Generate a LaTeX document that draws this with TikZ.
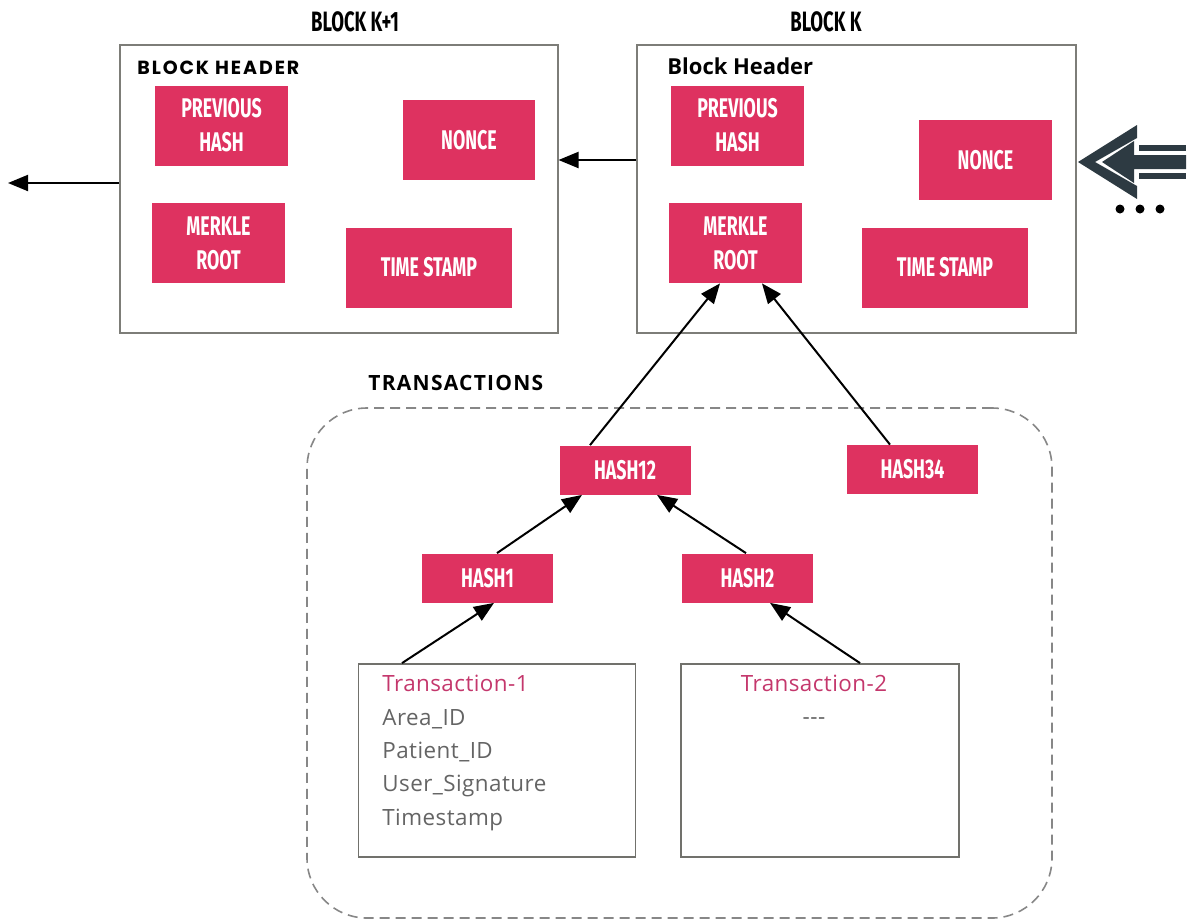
\documentclass[tikz,border=0pt]{standalone}
\usepackage{fontspec}
\setmainfont{Open Sans}
\newfontfamily\cond[FakeStretch=0.66]{Fira Sans}
\newfontfamily\geo[LetterSpace=10]{Poppins}
\newfontfamily\spaced[LetterSpace=6]{Open Sans}
\newfontfamily\txfont[LetterSpace=2]{Open Sans}
\usetikzlibrary{arrows.meta,calc}
\definecolor{pinkc}{RGB}{222,50,96}
\definecolor{txpink}{RGB}{196,55,108}
\definecolor{txgrey}{RGB}{100,100,100}
\definecolor{boxgrey}{RGB}{125,125,120}
\definecolor{dashgrey}{RGB}{135,135,135}
\definecolor{iconc}{RGB}{45,58,66}
\tikzset{
  pinkbox/.style={fill=pinkc, text=white, inner sep=0pt, align=center,
    font={\cond\bfseries\fontsize{13.5}{17}\selectfont}},
  hashbox/.style={pinkbox, minimum width=65.5pt, minimum height=24.5pt},
  hdrbox/.style={pinkbox, minimum width=66.5pt, minimum height=40pt},
  blockbox/.style={draw=boxgrey, line width=1pt, minimum width=219pt, minimum height=144pt, inner sep=0pt},
  txbox/.style={draw=boxgrey!90!black, line width=0.9pt, minimum width=138.5pt, minimum height=96.5pt, inner sep=0pt},
  title/.style={font={\cond\bfseries\fontsize{14}{16}\selectfont}, inner sep=0pt},
  txtitle/.style={font={\txfont\fontsize{11.2}{13}\selectfont}, text=txpink, inner sep=0pt, anchor=base west},
  txline/.style={font={\txfont\fontsize{11.2}{13}\selectfont}, text=txgrey, inner sep=0pt, anchor=base west},
  arr/.style={line width=1pt, -{Triangle[length=10pt,width=8pt]}},
}
\begin{document}
\begin{tikzpicture}[x=0.5pt,y=-0.5pt]
\useasboundingbox (0,0) rectangle (1189,922);
% block boxes
\node[blockbox] (bk1) at (338.5,189) {};
\node[blockbox, minimum width=219.5pt] (bk) at (856.5,189) {};
% titles
\node[title, anchor=base] (tk1) at (355,31) {BLOCK K+1};
\node[title, anchor=base] (tk) at (826,31) {BLOCK K};
\node[anchor=base west, inner sep=0pt, font={\geo\bfseries\fontsize{9.5}{11}\selectfont}] (hk1) at (137,74) {BLOCK HEADER};
\node[anchor=base west, inner sep=0pt, font={\bfseries\fontsize{11}{13}\selectfont}] (hk) at (667,74) {Block Header};
% block K+1 fields
\node[hdrbox] (k1prev) at (221.5,125.5) {PREVIOUS\\HASH};
\node[hdrbox, minimum width=66pt] (k1nonce) at (469,140) {NONCE};
\node[hdrbox] (k1mr) at (218.5,243) {MERKLE\\ROOT};
\node[hdrbox, minimum width=83pt] (k1ts) at (429,267.5) {TIME STAMP};
% block K fields
\node[hdrbox] (kprev) at (737.5,125.5) {PREVIOUS\\HASH};
\node[hdrbox] (knonce) at (985.5,160) {NONCE};
\node[hdrbox] (kmr) at (735.5,243) {MERKLE\\ROOT};
\node[hdrbox, minimum width=83pt] (kts) at (945,267.5) {TIME STAMP};
% chain arrows
\coordinate (leftend) at (8,183);
\draw[arr] ($(bk.west)+(0,-29)$) -- ($(bk1.east)+(0,-29)$);
\draw[arr] ($(bk1.west)+(0,-6)$) -- (leftend);
% transactions
\node[anchor=base west, inner sep=0pt, font={\spaced\bfseries\fontsize{10.5}{12}\selectfont}] (tr) at (368,390) {TRANSACTIONS};
\node[draw=dashgrey, line width=0.8pt, dash pattern=on 5pt off 3pt, rounded corners=30pt,
  minimum width=372.5pt, minimum height=255pt, inner sep=0pt] (trbox) at (679.5,663) {};
\node[hashbox] (h12) at (625,470) {HASH12};
\node[hashbox] (h34) at (912.5,469.5) {HASH34};
\node[hashbox] (h1) at (487.5,578) {HASH1};
\node[hashbox] (h2) at (747.5,578) {HASH2};
\node[txbox] (tx1) at (497,760.5) {};
\node[txbox, minimum width=139pt] (tx2) at (820,760.5) {};
\node[txtitle] (t1a) at (382,691) {Transaction-1};
\node[txline] (t1b) at (382,725) {Area\_ID};
\node[txline] (t1c) at (382,758) {Patient\_ID};
\node[txline] (t1d) at (382,791) {User\_Signature};
\node[txline] (t1e) at (382,825) {Timestamp};
\node[txtitle, anchor=base] (t2a) at (814,691) {Transaction-2};
\node[txline, anchor=base] (t2b) at (814,724) {-{}-{}-};
% merkle arrows
\draw[arr] ($(h12.north)+(-35,0)$) -- ($(kmr.south)+(-15.5,0)$);
\draw[arr] ($(h34.north)+(-22.5,0)$) -- ($(kmr.south)+(26.5,0)$);
\draw[arr] ($(h1.north)+(9.5,0)$) -- ($(h12.south)+(-43,0)$);
\draw[arr] ($(h2.north)+(-1.5,0)$) -- ($(h12.south)+(32,0)$);
\draw[arr] ($(tx1.north)+(-95,0)$) -- ($(h1.south)+(6.5,0)$);
\draw[arr] ($(tx2.north)+(40,0)$) -- ($(h2.south)+(22.5,0)$);
% incoming icon
\fill[iconc] (1078,162) -- (1137,125) -- (1137,138) -- (1095,162) -- (1137,186) -- (1137,199) -- cycle;
\fill[iconc] (1102,162) -- (1134,141) -- (1134,155) -- (1186,155) -- (1186,169) -- (1134,169) -- (1134,183) -- cycle;
\fill[iconc] (1139,145) rectangle (1186,151);
\fill[iconc] (1139,173) rectangle (1186,179);
\fill[black] (1120,209) circle (4.5);
\fill[black] (1140,209) circle (4.5);
\fill[black] (1160,209) circle (4.5);
\end{tikzpicture}
\end{document}
